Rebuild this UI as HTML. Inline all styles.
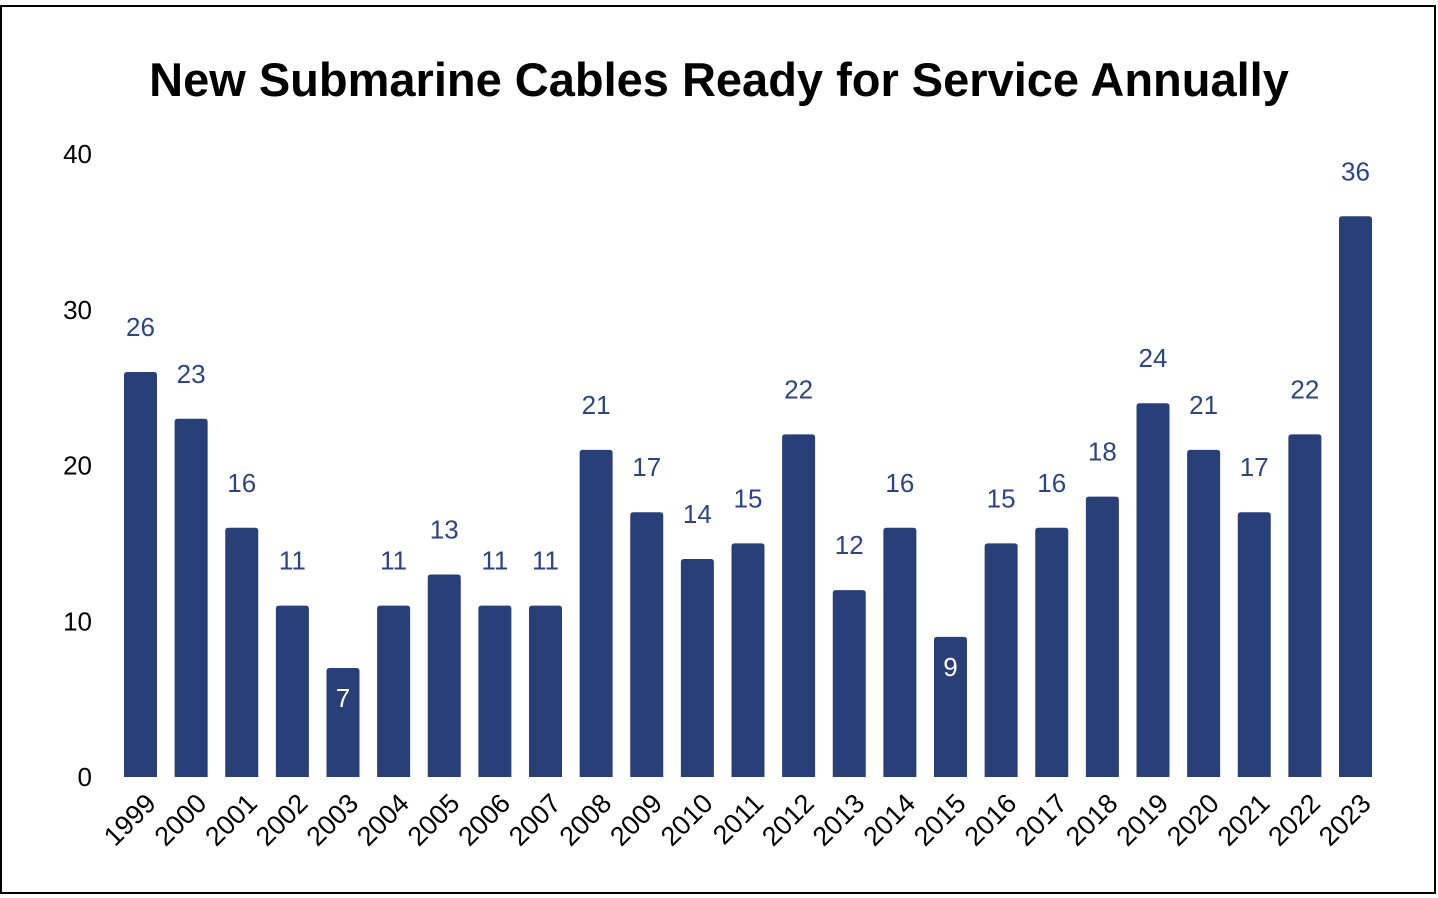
<!DOCTYPE html>
<html><head><meta charset="utf-8"><style>
body{margin:0;background:#fff;}
svg{display:block;font-family:"Liberation Sans",sans-serif;}
</style></head><body>
<svg id="chart" width="1438" height="898">
<rect x="1" y="6" width="1434" height="887" fill="#fff" stroke="#000" stroke-width="2"/>
<text x="719" y="96" text-anchor="middle" font-size="47" font-weight="bold" fill="#000">New Submarine Cables Ready for Service Annually</text>
<g id="yaxis"></g><g id="bars"></g><g id="xaxis"></g>
</svg>
<script>
const years=["1999","2000","2001","2002","2003","2004","2005","2006","2007","2008","2009","2010","2011","2012","2013","2014","2015","2016","2017","2018","2019","2020","2021","2022","2023"];
const counts=[26,23,16,11,7,11,13,11,11,21,17,14,15,22,12,16,9,15,16,18,24,21,17,22,36];
const yTicks=[0,10,20,30,40];
const NS="http://www.w3.org/2000/svg";
const y0=777,yTop=154,yMax=40;
const y=v=>y0-(v/yMax)*(y0-yTop);
const x0=140.5,step=(1355.5-140.5)/24;
const x=i=>x0+i*step;
const bw=33;
function mk(t,a,parent,txt){const e=document.createElementNS(NS,t);for(const k in a)e.setAttribute(k,a[k]);if(txt!==undefined)e.textContent=txt;parent.appendChild(e);return e;}
const ya=document.getElementById('yaxis'),bg=document.getElementById('bars'),xa=document.getElementById('xaxis');
yTicks.forEach(t=>{const e=mk('text',{x:92,y:y(t)+9,'text-anchor':'end','font-size':26,fill:'#000'},ya,t);

});
counts.forEach((v,i)=>{
const cx=x(i),top=y(v),r=3;
const d=`M${cx-bw/2},${y0} L${cx-bw/2},${top+r} Q${cx-bw/2},${top} ${cx-bw/2+r},${top} L${cx+bw/2-r},${top} Q${cx+bw/2},${top} ${cx+bw/2},${top+r} L${cx+bw/2},${y0} Z`;
const b=mk('path',{d:d,fill:'#283f78'},bg);


const inside=v<10;
const l=mk('text',{x:cx,y:inside?top+39:top-36,'text-anchor':'middle','font-size':26,fill:inside?'#fff':'#2b4585'},bg,v);


const ax=cx+17,ay=y0+28;
const t=mk('text',{x:ax,y:ay,'text-anchor':'end','font-size':27,fill:'#000',transform:`rotate(-45 ${ax} ${ay})`},xa,years[i]);


});
</script>
</body></html>
